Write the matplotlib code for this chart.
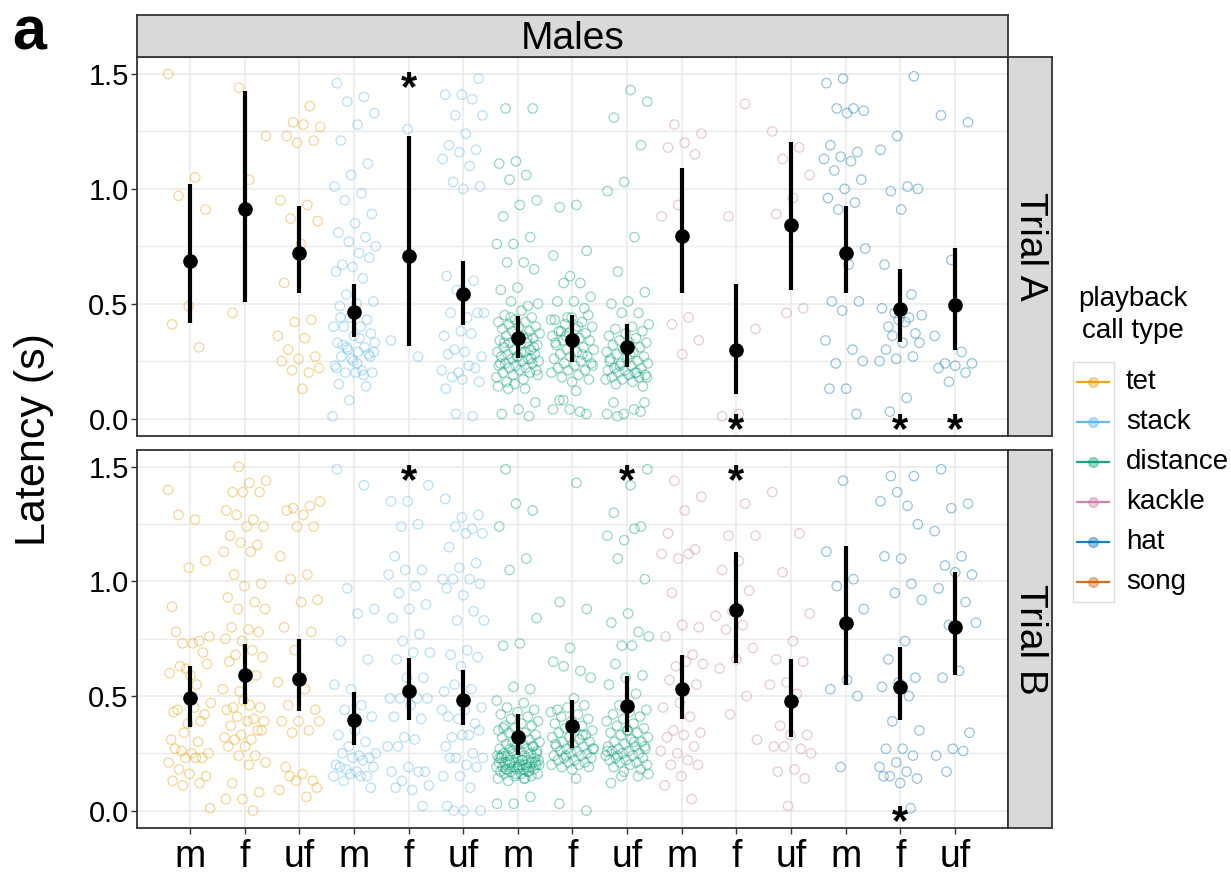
import numpy as np
import matplotlib.pyplot as plt
from matplotlib.patches import Rectangle

plt.rcParams['font.family'] = ['Liberation Sans', 'DejaVu Sans']

W, H = 1231, 881

call_types = ['tet', 'stack', 'distance', 'kackle', 'hat', 'song']
call_colors = ['#E69F00', '#56B4E9', '#009E73', '#CC79A7', '#0072B2', '#D55E00']
sexes = ['m', 'f', 'uf']
trials = ['Trial A', 'Trial B']

# ---- raw latencies (s), trial A ----
tet_m_A = [1.50, 1.05, 0.97, 0.91, 0.49, 0.41, 0.31]
tet_f_A = [1.44, 1.23, 1.04, 0.46]
tet_uf_A = [1.36, 1.29, 1.27, 1.28, 1.23, 1.21, 1.20, 0.95, 0.93, 0.87, 0.86, 0.76, 0.59,
            0.43, 0.42, 0.36, 0.35, 0.30, 0.27, 0.26, 0.25, 0.20, 0.21, 0.22, 0.13]
stack_m_A = [1.46, 1.40, 1.38, 1.33, 1.28, 1.21, 1.11, 1.06, 1.01, 0.98, 0.95, 0.89, 0.85,
             0.81, 0.79, 0.77, 0.75, 0.72, 0.67, 0.70, 0.66, 0.64, 0.61, 0.54, 0.51, 0.50,
             0.49, 0.43, 0.44, 0.40, 0.40, 0.40, 0.37, 0.36, 0.33, 0.31, 0.30, 0.33, 0.29,
             0.27, 0.28, 0.26, 0.23, 0.21, 0.20, 0.20, 0.20, 0.15, 0.14, 0.08, 0.01, 0.35,
             0.32, 0.27, 0.25, 0.22, 0.19, 0.31, 0.29, 0.24, 0.44]
stack_f_A = [1.26, 0.34, 0.27]
stack_uf_A = [1.48, 1.41, 1.41, 1.39, 1.32, 1.32, 1.24, 1.19, 1.17, 1.16, 1.13, 1.10, 1.03,
              1.01, 1.00, 0.62, 0.60, 0.56, 0.46, 0.44, 0.46, 0.46, 0.38, 0.36, 0.37, 0.30,
              0.27, 0.29, 0.28, 0.22, 0.20, 0.21, 0.23, 0.18, 0.16, 0.17, 0.13, 0.01, 0.02]
distance_m_A = [1.35, 1.35, 1.12, 1.11, 1.06, 1.04, 0.95, 0.93, 0.88, 0.79, 0.76, 0.76, 0.68,
                0.68, 0.65, 0.57, 0.56, 0.49, 0.51, 0.50, 0.47, 0.45, 0.44, 0.43, 0.42, 0.42,
                0.41, 0.40, 0.40, 0.39, 0.38, 0.38, 0.37, 0.36, 0.36, 0.35, 0.35, 0.34, 0.33,
                0.33, 0.32, 0.32, 0.31, 0.30, 0.30, 0.29, 0.29, 0.28, 0.28, 0.27, 0.27, 0.26,
                0.26, 0.25, 0.25, 0.24, 0.24, 0.23, 0.23, 0.22, 0.22, 0.21, 0.21, 0.20, 0.20,
                0.19, 0.18, 0.17, 0.16, 0.31, 0.27, 0.24, 0.35, 0.44, 0.19, 0.29, 0.33, 0.26,
                0.15, 0.14, 0.13, 0.13, 0.07, 0.04, 0.02, 0.01]
distance_f_A = [0.93, 0.92, 0.73, 0.62, 0.71, 0.59, 0.59, 0.53, 0.51, 0.51, 0.48, 0.44, 0.43,
                0.40, 0.38, 0.45, 0.44, 0.43, 0.42, 0.41, 0.40, 0.39, 0.38, 0.37, 0.37, 0.36,
                0.35, 0.34, 0.34, 0.33, 0.32, 0.31, 0.30, 0.30, 0.29, 0.28, 0.27, 0.27, 0.26,
                0.25, 0.24, 0.24, 0.23, 0.22, 0.21, 0.21, 0.20, 0.19, 0.18, 0.17, 0.16, 0.33,
                0.28, 0.36, 0.23, 0.12, 0.08, 0.02, 0.04, 0.04, 0.03, 0.08]
distance_uf_A = [1.38, 1.43, 1.31, 1.19, 1.03, 0.99, 0.79, 0.64, 0.55, 0.51, 0.50, 0.46, 0.46,
                 0.41, 0.40, 0.39, 0.38, 0.37, 0.36, 0.35, 0.34, 0.33, 0.33, 0.32, 0.31, 0.30,
                 0.29, 0.29, 0.28, 0.27, 0.26, 0.26, 0.25, 0.24, 0.24, 0.23, 0.22, 0.22, 0.21,
                 0.21, 0.20, 0.20, 0.19, 0.19, 0.18, 0.18, 0.17, 0.17, 0.16, 0.15, 0.14, 0.30,
                 0.25, 0.20, 0.23, 0.18, 0.28, 0.07, 0.03, 0.02, 0.02, 0.04, 0.01, 0.07]
kackle_m_A = [1.28, 1.24, 1.20, 1.18, 1.15, 0.93, 0.88, 0.44, 0.41, 0.34, 0.28]
kackle_f_A = [1.37, 0.88, 0.39, 0.02, 0.01]
kackle_uf_A = [1.25, 1.18, 1.13, 1.06, 0.96, 0.89, 0.48, 0.46]
hat_m_A = [1.48, 1.46, 1.35, 1.35, 1.34, 1.33, 1.19, 1.16, 1.14, 1.13, 1.12, 1.08, 1.04, 1.00,
           0.96, 0.94, 0.91, 0.74, 0.67, 0.51, 0.51, 0.47, 0.34, 0.30, 0.24, 0.25, 0.13, 0.13,
           0.02]
hat_f_A = [1.49, 1.23, 1.17, 1.01, 0.99, 1.00, 0.91, 0.67, 0.54, 0.46, 0.45, 0.42, 0.40, 0.37,
           0.43, 0.48, 0.44, 0.36, 0.33, 0.33, 0.30, 0.27, 0.26, 0.25, 0.09, 0.03]
hat_uf_A = [1.32, 1.29, 0.69, 0.36, 0.29, 0.24, 0.24, 0.23, 0.22, 0.20, 0.16]

# ---- raw latencies (s), trial B ----
tet_m_B = [1.40, 1.27, 1.29, 1.09, 1.06, 0.89, 0.74, 0.73, 0.76, 0.73, 0.78, 0.69, 0.62, 0.60,
           0.55, 0.63, 0.64, 0.59, 0.43, 0.39, 0.34, 0.47, 0.45, 0.44, 0.42, 0.38, 0.31, 0.30,
           0.26, 0.25, 0.25, 0.27, 0.23, 0.23, 0.21, 0.23, 0.18, 0.15, 0.16, 0.13, 0.12, 0.11,
           0.01]
tet_f_B = [1.50, 1.44, 1.43, 1.39, 1.39, 1.39, 1.31, 1.27, 1.29, 1.24, 1.24, 1.20, 1.16, 1.17,
           1.13, 1.13, 1.03, 0.99, 0.98, 0.93, 0.91, 0.88, 0.88, 0.79, 0.80, 0.78, 0.74, 0.75,
           0.70, 0.68, 0.67, 0.60, 0.65, 0.59, 0.52, 0.53, 0.46, 0.45, 0.45, 0.48, 0.44, 0.40,
           0.41, 0.39, 0.39, 0.37, 0.35, 0.33, 0.32, 0.31, 0.31, 0.35, 0.28, 0.28, 0.24, 0.24,
           0.21, 0.20, 0.12, 0.08, 0.05, 0.05, 0.00]
tet_uf_B = [1.33, 1.32, 1.35, 1.29, 1.31, 1.24, 1.24, 1.11, 1.03, 1.01, 0.92, 0.91, 0.80, 0.78,
            0.70, 0.56, 0.53, 0.46, 0.44, 0.39, 0.39, 0.35, 0.34, 0.39, 0.16, 0.19, 0.13, 0.13,
            0.09, 0.06, 0.15, 0.10]
stack_m_B = [1.49, 1.42, 0.97, 0.88, 0.86, 0.74, 0.66, 0.53, 0.55, 0.46, 0.44, 0.41, 0.35, 0.33,
             0.30, 0.28, 0.25, 0.24, 0.25, 0.23, 0.23, 0.20, 0.22, 0.18, 0.19, 0.17, 0.19, 0.15,
             0.16, 0.15, 0.15, 0.13, 0.10]
stack_f_B = [1.35, 1.35, 1.25, 1.24, 1.42, 1.47, 1.11, 1.05, 1.05, 1.03, 0.98, 0.95, 0.90, 0.88,
             0.84, 0.77, 0.74, 0.69, 0.69, 0.66, 0.58, 0.58, 0.49, 0.49, 0.49, 0.49, 0.46, 0.41,
             0.40, 0.32, 0.28, 0.31, 0.28, 0.17, 0.19, 0.17, 0.17, 0.13, 0.11, 0.09, 0.10, 0.02]
stack_uf_B = [1.29, 1.28, 1.36, 1.23, 1.24, 1.21, 1.21, 1.15, 1.08, 1.06, 1.01, 1.01, 1.01, 0.99,
              0.94, 0.97, 0.87, 0.83, 0.83, 0.70, 0.68, 0.67, 0.63, 0.52, 0.53, 0.55, 0.45, 0.44,
              0.41, 0.38, 0.40, 0.44, 0.33, 0.32, 0.35, 0.33, 0.28, 0.25, 0.23, 0.23, 0.20, 0.23,
              0.19, 0.15, 0.15, 0.10, 0.00, 0.00, 0.00, 0.02]
distance_m_B = [1.49, 1.31, 1.34, 1.24, 1.10, 1.05, 0.84, 0.73, 0.72, 0.53, 0.54,
                0.48, 0.47, 0.45, 0.44, 0.43, 0.42, 0.41, 0.40, 0.39, 0.38, 0.37, 0.37, 0.36,
                0.35, 0.34, 0.34, 0.33, 0.32, 0.32, 0.31, 0.30, 0.30, 0.29, 0.29, 0.28, 0.28,
                0.27, 0.27, 0.27, 0.26, 0.26, 0.25, 0.25, 0.25, 0.24, 0.24, 0.24, 0.23, 0.23,
                0.23, 0.22, 0.22, 0.22, 0.22, 0.21, 0.21, 0.21, 0.21, 0.20, 0.20, 0.20, 0.20,
                0.19, 0.19, 0.19, 0.19, 0.18, 0.18, 0.18, 0.18, 0.17, 0.17, 0.17, 0.16, 0.16,
                0.16, 0.15, 0.15, 0.14, 0.14, 0.13, 0.21, 0.19, 0.24, 0.17, 0.26, 0.20, 0.22,
                0.18, 0.28, 0.16, 0.23, 0.19, 0.21, 0.25, 0.31, 0.36, 0.06, 0.03, 0.03, 0.14]
distance_f_B = [1.43, 0.91, 0.88, 0.71, 0.65, 0.61, 0.63, 0.58, 0.49, 0.44,
                0.46, 0.45, 0.43, 0.42, 0.41, 0.40, 0.39, 0.38, 0.37, 0.36, 0.35, 0.35, 0.34,
                0.33, 0.32, 0.32, 0.31, 0.30, 0.30, 0.29, 0.28, 0.28, 0.27, 0.27, 0.26, 0.26,
                0.25, 0.25, 0.24, 0.24, 0.23, 0.23, 0.22, 0.22, 0.21, 0.21, 0.20, 0.20, 0.19,
                0.19, 0.18, 0.29, 0.33, 0.24, 0.27, 0.14, 0.03, 0.00]
distance_uf_B = [1.49, 1.42, 1.30, 1.24, 1.18, 1.20, 1.23, 1.10, 1.01, 0.86, 0.82, 0.78, 0.72,
                 0.76, 0.72, 0.64, 0.59, 0.58, 0.55, 0.51, 0.46, 0.44, 0.43, 0.42, 0.41, 0.40,
                 0.39, 0.38, 0.37, 0.36, 0.35, 0.34, 0.34, 0.33, 0.32, 0.31, 0.30, 0.30, 0.29,
                 0.28, 0.28, 0.27, 0.27, 0.26, 0.26, 0.25, 0.25, 0.24, 0.24, 0.23, 0.23, 0.22,
                 0.22, 0.21, 0.21, 0.20, 0.20, 0.19, 0.18, 0.17, 0.26, 0.30, 0.24, 0.28, 0.35,
                 0.12, 0.15, 0.15, 0.16]
kackle_m_B = [1.44, 1.37, 1.31, 1.21, 1.14, 1.10, 1.12, 1.12, 0.95, 0.80, 0.81, 0.76, 0.68, 0.63,
              0.64, 0.65, 0.57, 0.55, 0.47, 0.45, 0.41, 0.35, 0.34, 0.33, 0.32, 0.28, 0.25, 0.26,
              0.22, 0.20, 0.20, 0.15, 0.11, 0.05]
kackle_f_B = [1.34, 1.20, 1.20, 1.09, 1.05, 0.96, 0.87, 0.85, 0.81, 0.79, 0.71, 0.66, 0.62, 0.50,
              0.42, 0.31]
kackle_uf_B = [1.39, 1.21, 1.04, 0.86, 0.74, 0.66, 0.65, 0.56, 0.55, 0.51, 0.37, 0.33, 0.33,
               0.28, 0.27, 0.28, 0.25, 0.18, 0.17, 0.14, 0.02]
hat_m_B = [1.44, 1.13, 1.01, 0.98, 0.88, 0.57, 0.53, 0.50, 0.19]
hat_f_B = [1.46, 1.39, 1.35, 1.33, 1.46, 1.25, 1.10, 1.11, 0.99, 0.95, 0.92, 0.74, 0.66, 0.58,
           0.56, 0.54, 0.50, 0.39, 0.35, 0.27, 0.27, 0.24, 0.21, 0.19, 0.17, 0.15, 0.14, 0.12,
           0.15, 0.01]
hat_uf_B = [1.49, 1.34, 1.32, 1.22, 1.11, 1.07, 1.03, 1.04, 0.97, 0.91, 0.81, 0.82, 0.61, 0.58,
            0.34, 0.27, 0.24, 0.26, 0.17]

# ---- model estimates with 95% CI, 15 groups (call type x sex) ----
mean_A = [0.685, 0.913, 0.719, 0.465, 0.707, 0.541, 0.349, 0.343, 0.310, 0.794, 0.300, 0.844, 0.721, 0.479, 0.495]
lo_A = [0.414, 0.508, 0.545, 0.353, 0.315, 0.408, 0.263, 0.248, 0.224, 0.545, 0.108, 0.560, 0.545, 0.335, 0.300]
hi_A = [1.020, 1.428, 0.926, 0.584, 1.229, 0.685, 0.447, 0.452, 0.411, 1.092, 0.587, 1.205, 0.924, 0.649, 0.743]
mean_B = [0.493, 0.590, 0.576, 0.396, 0.522, 0.483, 0.323, 0.370, 0.457, 0.532, 0.877, 0.478, 0.819, 0.541, 0.802]
lo_B = [0.363, 0.464, 0.435, 0.286, 0.396, 0.373, 0.242, 0.273, 0.345, 0.399, 0.645, 0.323, 0.548, 0.396, 0.591]
hi_B = [0.630, 0.725, 0.747, 0.519, 0.667, 0.613, 0.420, 0.483, 0.587, 0.678, 1.130, 0.660, 1.155, 0.713, 1.041]

# significance stars: group number (1-15) and whether drawn above or at zero
star_grp_A = [5, 11, 14, 15]
star_top_A = [True, False, False, False]
star_grp_B = [5, 9, 11, 14]
star_top_B = [True, True, True, False]

raw_A = [tet_m_A, tet_f_A, tet_uf_A, stack_m_A, stack_f_A, stack_uf_A,
         distance_m_A, distance_f_A, distance_uf_A, kackle_m_A, kackle_f_A, kackle_uf_A,
         hat_m_A, hat_f_A, hat_uf_A]
raw_B = [tet_m_B, tet_f_B, tet_uf_B, stack_m_B, stack_f_B, stack_uf_B,
         distance_m_B, distance_f_B, distance_uf_B, kackle_m_B, kackle_f_B, kackle_uf_B,
         hat_m_B, hat_f_B, hat_uf_B]

panels = [
    (raw_A, mean_A, lo_A, hi_A, star_grp_A, star_top_A),
    (raw_B, mean_B, lo_B, hi_B, star_grp_B, star_top_B),
]

x_labels = sexes * 5
xpos = np.arange(1, 16)


def px_box(x0, y0, x1, y1):
    return [x0 / W, 1 - y1 / H, (x1 - x0) / W, (y1 - y0) / H]


fig = plt.figure(figsize=(W / 100, H / 100), dpi=100)
fig.patch.set_facecolor('white')

edge = '#333333'
panel_rows = [(57, 436), (450, 828)]

for k, (raw, mean, lo, hi, sgrp, stop) in enumerate(panels):
    y0, y1 = panel_rows[k]
    ax = fig.add_axes(px_box(137, y0, 1008, y1))
    ax.set_xlim(0.03, 15.97)
    ax.set_ylim(-0.076, 1.574)

    ax.set_yticks([0, 0.5, 1.0, 1.5])
    ax.set_yticklabels(['0.0', '0.5', '1.0', '1.5'])
    ax.set_yticks([0.25, 0.75, 1.25], minor=True)
    ax.set_xticks(xpos)
    ax.grid(True, which='major', color='#EBEBEB', lw=1.2, zorder=0)
    ax.grid(True, which='minor', axis='y', color='#EBEBEB', lw=1.0, zorder=0)
    ax.set_axisbelow(True)
    ax.tick_params(axis='both', which='major', length=4, width=1, color=edge,
                   labelsize=21, pad=2)
    ax.tick_params(axis='y', which='minor', length=0)
    if k == 0:
        ax.tick_params(axis='x', length=0, labelbottom=False)
    else:
        ax.set_xticklabels(x_labels)
        ax.tick_params(axis='x', labelsize=27, pad=4)
    for s in ax.spines.values():
        s.set_color(edge)
        s.set_linewidth(1.3)

    # jittered raw points
    for g, vals in enumerate(raw):
        col = call_colors[g // 3]
        n = len(vals)
        jit = ((np.arange(n) * 0.618034 + g * 0.37) % 1.0) * 0.8 - 0.4
        ax.scatter(xpos[g] + jit, vals, s=46, facecolors='none', edgecolors=col,
                   linewidths=0.9, alpha=0.42, zorder=2)

    # estimates and CIs
    ax.vlines(xpos, lo, hi, color='black', lw=3.0, zorder=3)
    ax.plot(xpos, mean, 'o', color='black', ms=9.5, zorder=4)

    # stars
    fs = 30
    for g, top in zip(sgrp, stop):
        ax.annotate('*', (g, 1.49 if top else 0.0), xytext=(0, -0.57 * fs),
                    textcoords='offset points', ha='center', va='baseline',
                    fontsize=fs, fontweight='bold', zorder=5)

    # right strip
    sax = fig.add_axes(px_box(1008, y0, 1052, y1))
    sax.set_facecolor('#D9D9D9')
    sax.set_xticks([])
    sax.set_yticks([])
    for s in sax.spines.values():
        s.set_color(edge)
        s.set_linewidth(1.3)
    sax.text(0.5, 0.5, trials[k], rotation=-90, ha='center', va='center',
             fontsize=28, transform=sax.transAxes)

# top strip
tax = fig.add_axes(px_box(137, 15, 1008, 57))
tax.set_facecolor('#D9D9D9')
tax.set_xticks([])
tax.set_yticks([])
for s in tax.spines.values():
    s.set_color(edge)
    s.set_linewidth(1.3)
tax.text(0.5, 0.42, 'Males', ha='center', va='center', fontsize=28,
         transform=tax.transAxes)

# overlay in pixel coordinates for labels and legend
lax = fig.add_axes([0, 0, 1, 1])
lax.set_xlim(0, W)
lax.set_ylim(H, 0)
lax.axis('off')
lax.patch.set_alpha(0)

lax.text(12, 50, 'a', fontsize=44, fontweight='bold', ha='left', va='baseline')
lax.text(34, 440, 'Latency (s)', rotation=90, ha='center', va='center', fontsize=31)

lax.text(1133, 315, 'playback\ncall type', ha='center', va='center',
         fontsize=20, linespacing=1.3)
lax.add_patch(Rectangle((1073, 362), 41, 240, facecolor='white',
                        edgecolor='#DDDDDD', lw=1.0))
for i, (name, col) in enumerate(zip(call_types, call_colors)):
    yk = 382 + 40 * i
    lax.plot([1077, 1109], [yk, yk], color=col, lw=1.6, alpha=0.9)
    lax.plot([1093], [yk], 'o', color=col, ms=7, alpha=0.4)
    lax.text(1126, yk, name, ha='left', va='center', fontsize=20)

fig.savefig('out.png', dpi=100)
